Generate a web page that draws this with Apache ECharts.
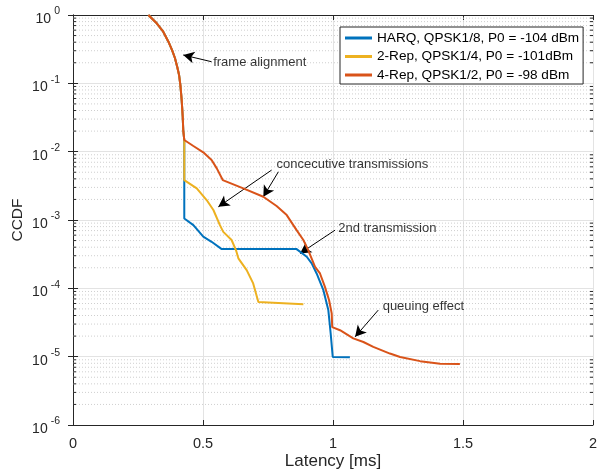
<!DOCTYPE html>
<html><head><meta charset="utf-8">
<script src="https://cdn.jsdelivr.net/npm/echarts@6/dist/echarts.min.js"></script>
<style>html,body{margin:0;padding:0;background:#fff}#c{width:609px;height:475px}</style>
</head><body><div id="c"></div>
<script>
// shared head of all curves (frame alignment part)
const commonX = [0.290, 0.322, 0.347, 0.367, 0.381, 0.392, 0.401, 0.408, 0.413, 0.418, 0.422, 0.424, 0.428];
const commonY = [1.0, 0.756, 0.569, 0.407, 0.307, 0.235, 0.173, 0.132, 0.0944, 0.0569, 0.0324, 0.0207, 0.0148];

const harqX = [0.428, 0.463, 0.501, 0.533, 0.572, 0.860, 0.899, 0.918, 0.937, 0.963, 0.982, 0.991, 0.999, 1.065];
const harqY = [1.05e-3, 8.4e-4, 5.7e-4, 4.8e-4, 3.75e-4, 3.75e-4, 2.9e-4, 2.32e-4, 1.65e-4, 9.4e-5, 4.8e-5, 2.2e-5, 9.9e-6, 9.8e-6];

const rep2X = [0.428, 0.476, 0.514, 0.540, 0.565, 0.578, 0.610, 0.627, 0.636, 0.668, 0.693, 0.713, 0.719, 0.886];
const rep2Y = [3.84e-3, 2.9e-3, 1.96e-3, 1.4e-3, 8.4e-4, 6.7e-4, 5.1e-4, 3.6e-4, 2.75e-4, 1.85e-4, 1.18e-4, 6.3e-5, 6.1e-5, 5.85e-5];

const rep4X = [0.463, 0.501, 0.533, 0.553, 0.576, 0.655, 0.732, 0.783, 0.822, 0.860, 0.886, 0.905, 0.931, 0.950, 0.969, 0.985, 0.995, 0.997, 1.027, 1.078, 1.117, 1.155, 1.219, 1.258, 1.335, 1.412, 1.488];
const rep4Y = [0.0121, 9.77e-3, 7.54e-3, 5.69e-3, 3.84e-3, 2.9e-3, 2.19e-3, 1.6e-3, 1.18e-3, 7.1e-4, 5.1e-4, 3.6e-4, 2.06e-4, 1.65e-4, 1.05e-4, 6.7e-5, 4.3e-5, 2.7e-5, 2.44e-5, 1.85e-5, 1.64e-5, 1.39e-5, 1.11e-5, 9.9e-6, 8.6e-6, 7.9e-6, 7.8e-6];

const seriesNames = ['HARQ, QPSK1/8, P0 = -104 dBm', '2-Rep, QPSK1/4, P0 = -101dBm', '4-Rep, QPSK1/2, P0 = -98 dBm'];
const seriesColors = ['#0072BD', '#EDB120', '#D95319'];

const xTicks = [0, 0.5, 1, 1.5, 2];
const yDecades = [-6, -5, -4, -3, -2, -1, 0];
const minorMult = [2, 3, 4, 5, 6, 7, 8, 9];

// annotations (data coordinates)
const annText = ['frame alignment', 'concecutive transmissions', '2nd transmission', 'queuing effect'];
const annTextX = [0.539, 0.783, 1.020, 1.191];
const annTextY = [0.200, 6.52e-3, 7.54e-4, 5.36e-5];
const arrowFromX = [0.533, 0.764, 0.790, 1.008, 1.174];
const arrowFromY = [0.207, 5.38e-3, 5.08e-3, 7.11e-4, 4.8e-5];
const arrowToX = [0.424, 0.559, 0.732, 0.873, 1.085];
const arrowToY = [0.260, 1.56e-3, 2.19e-3, 3.24e-4, 1.95e-5];

const zip = (xs, ys) => xs.map((x, i) => [x, ys[i]]);
const harq = zip(commonX, commonY).concat(zip(harqX, harqY));
const rep2 = zip(commonX, commonY).concat(zip(rep2X, rep2Y));
const rep4 = zip(commonX, commonY).concat(zip(rep4X, rep4Y));

const minorVals = [];
yDecades.slice(0, -1).forEach(d => minorMult.forEach(m => minorVals.push([0, m * Math.pow(10, d)])));

const FONT = 'Liberation Sans, Arial, Helvetica, sans-serif';
const AX = '#262626';

const chart = echarts.init(document.getElementById('c'), null, {renderer: 'canvas'});

const lineSeries = (name, data, color) => ({
  name, type: 'line', data, showSymbol: false, symbol: 'none',
  lineStyle: {color, width: 2}, itemStyle: {color}, z: 5, animation: false
});

chart.setOption({
  animation: false,
  textStyle: {fontFamily: FONT},
  grid: {left: 73, right: 16, top: 15, bottom: 50, containLabel: false, outerBoundsMode: 'none'},
  xAxis: [{
    type: 'value', min: 0, max: 2, interval: 0.5,
    name: 'Latency [ms]', nameLocation: 'middle', nameGap: 28, nameMoveOverlap: false,
    nameTextStyle: {fontSize: 17, color: AX, fontFamily: FONT},
    axisLine: {show: true, lineStyle: {color: AX, width: 1}},
    axisTick: {show: true, inside: true, length: 5, lineStyle: {color: AX}},
    axisLabel: {fontSize: 14.5, color: AX, margin: 11, fontFamily: FONT,
      formatter: v => String(v)},
    splitLine: {show: true, lineStyle: {color: '#e3e3e3', width: 1}}
  }, {
    type: 'value', min: 0, max: 2, interval: 0.5, position: 'top',
    axisLine: {show: true, lineStyle: {color: AX, width: 1}},
    axisTick: {show: true, inside: true, length: 5, lineStyle: {color: AX}},
    axisLabel: {show: false}, splitLine: {show: false}
  }],
  yAxis: [{
    type: 'log', logBase: 10, min: 1e-6, max: 1, splitNumber: 6,
    name: 'CCDF', nameLocation: 'middle', nameGap: 47, nameMoveOverlap: false,
    nameTextStyle: {fontSize: 15.5, color: AX, fontFamily: FONT},
    axisLine: {show: true, lineStyle: {color: AX, width: 1}},
    axisTick: {show: true, inside: true, length: 5, lineStyle: {color: AX}},
    axisLabel: {
      color: AX, margin: 13, fontFamily: FONT,
      formatter: v => {
        const e = Math.round(Math.log10(v));
        return '{b|10}{s|' + e + '}';
      },
      rich: {
        b: {fontSize: 14, color: AX, fontFamily: FONT, verticalAlign: 'middle', padding: [8, 3, 0, 0]},
        s: {fontSize: 10.5, color: AX, fontFamily: FONT, verticalAlign: 'middle', padding: [0, 0, 7, 0]}
      }
    },
    splitLine: {show: true, lineStyle: {color: '#e3e3e3', width: 1}}
  }, {
    type: 'log', logBase: 10, min: 1e-6, max: 1, splitNumber: 6, position: 'right',
    axisLine: {show: true, lineStyle: {color: AX, width: 1}},
    axisTick: {show: true, inside: true, length: 5, lineStyle: {color: AX}},
    axisLabel: {show: false}, splitLine: {show: false}
  }],
  legend: {
    orient: 'vertical', left: 340, top: 27,
    backgroundColor: '#fff', borderColor: AX, borderWidth: 1, borderRadius: 0,
    padding: [4, 4, 2, 5], itemGap: 4.5, itemWidth: 27, itemHeight: 3, icon: 'rect',
    textStyle: {fontSize: 13.6, color: '#000', fontFamily: FONT},
    data: seriesNames
  },
  series: [
    {
      type: 'custom', coordinateSystem: 'cartesian2d', silent: true, z: 1,
      data: minorVals, clip: true,
      renderItem: (params, api) => {
        const y = api.value(1);
        const p0 = api.coord([0, y]);
        const p1 = api.coord([2, y]);
        return {type: 'group', children: [
          {type: 'line', shape: {x1: p0[0], y1: p0[1], x2: p1[0], y2: p1[1]},
            style: {stroke: '#cfcfcf', lineWidth: 1, lineDash: [1, 2]}},
          {type: 'line', shape: {x1: p0[0], y1: p0[1], x2: p0[0] + 3, y2: p0[1]},
            style: {stroke: AX, lineWidth: 1}},
          {type: 'line', shape: {x1: p1[0] - 3, y1: p1[1], x2: p1[0], y2: p1[1]},
            style: {stroke: AX, lineWidth: 1}}
        ]};
      }
    },
    lineSeries(seriesNames[0], harq, seriesColors[0]),
    lineSeries(seriesNames[1], rep2, seriesColors[1]),
    lineSeries(seriesNames[2], rep4, seriesColors[2]),
    {
      type: 'line', data: [], silent: true, z: 6,
      markLine: {
        silent: true, symbol: ['none', 'arrow'], symbolSize: [9, 11],
        label: {show: false},
        lineStyle: {color: '#000', width: 1, type: 'solid'},
        data: arrowFromX.map((x, i) => [{coord: [x, arrowFromY[i]]}, {coord: [arrowToX[i], arrowToY[i]]}])
      }
    },
    {
      type: 'scatter', symbolSize: 0, silent: true, z: 7,
      data: annText.map((t, i) => ({value: [annTextX[i], annTextY[i]], name: t})),
      label: {show: true, position: 'right', distance: 0, formatter: p => p.name,
        fontSize: 13, color: '#000', fontFamily: FONT}
    }
  ]
});
</script>
</body></html>
